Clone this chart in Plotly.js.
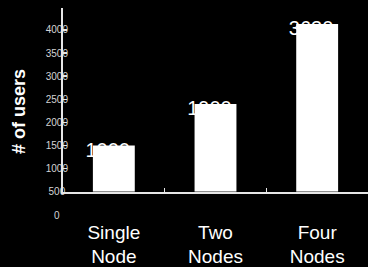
<!DOCTYPE html>
<html>
<head>
<meta charset="utf-8">
<script src="https://cdn.plot.ly/plotly-3.0.1.min.js"></script>
<style>html,body{margin:0;padding:0;background:#000;}#chart{width:368px;height:267px;}</style>
</head>
<body>
<div id="chart"></div>
<script>
// ---- data ----
const categories = ['Single<br>Node', 'Two<br>Nodes', 'Four<br>Nodes'];
const userCounts = [1000, 1900, 3630];
const barBase = 500;
const yTickVals = [0, 500, 1000, 1500, 2000, 2500, 3000, 3500, 4000];
const yTickLabels = ['0', '500', '1000', '1500', '2000', '2500', '3000', '3500', '4000'];
const yMax = 4475;

// ---- build ----
const maxLen = Math.max(...yTickLabels.map(s => s.length));
const centeredLabels = yTickLabels.map(s => s + '\u00a0'.repeat(maxLen - s.length));
const baseFrac = barBase / yMax;
const labelLift = 86; // axis-range offset that lifts the value labels a few px
const font = 'Arial, "Liberation Sans", sans-serif';

const anchorTrace = {
  type: 'scatter', mode: 'none', x: [], y: [],
  xaxis: 'x', yaxis: 'y', hoverinfo: 'skip', showlegend: false
};
const labelTrace = {
  type: 'scatter', mode: 'text',
  x: categories, y: userCounts.map(v => v + barBase),
  text: userCounts.map(String),
  textposition: 'bottom center',
  textfont: {family: font, size: 20, color: '#ffffff'},
  xaxis: 'x', yaxis: 'y3', hoverinfo: 'skip', showlegend: false
};
const barTrace = {
  type: 'bar', x: categories, y: userCounts, base: barBase,
  marker: {color: '#ffffff', line: {width: 0}},
  xaxis: 'x2', yaxis: 'y2', hoverinfo: 'skip', showlegend: false
};

const layout = {
  width: 368, height: 267,
  margin: {l: 63, r: 0, t: 8, b: 52},
  paper_bgcolor: '#000000', plot_bgcolor: 'rgba(0,0,0,0)',
  bargap: 0.588,
  showlegend: false,
  font: {family: font, color: '#ffffff'},
  xaxis: {
    type: 'category', range: [-0.44, 2.56], domain: [0, 1], anchor: 'y',
    visible: false, automargin: false
  },
  yaxis: {
    range: [0, yMax], domain: [0, 1], anchor: 'x',
    tickmode: 'array', tickvals: yTickVals, ticktext: centeredLabels,
    ticks: '', showline: false, showgrid: false, zeroline: false,
    tickfont: {family: font, size: 10, color: '#d4d4d4'},
    ticklabelstandoff: -6,
    title: {text: '<b># of users</b>', font: {family: font, size: 18, color: '#ffffff'}, standoff: 15},
    automargin: false
  },
  yaxis3: {
    range: [-labelLift, yMax - labelLift], overlaying: 'y', anchor: 'x',
    visible: false, automargin: false
  },
  xaxis2: {
    type: 'category', range: [-0.5, 2.5], domain: [0, 1], anchor: 'y2',
    showline: true, linecolor: '#e6e6e6', linewidth: 2,
    ticks: 'inside', ticklen: 4, tickcolor: '#e6e6e6', tickwidth: 1.5, tickson: 'boundaries',
    showgrid: false, zeroline: false,
    tickfont: {family: font, size: 19, color: '#ffffff'},
    ticklabelstandoff: 22,
    automargin: false
  },
  yaxis2: {
    range: [barBase, yMax], domain: [baseFrac, 1], anchor: 'x2',
    showline: true, linecolor: '#e6e6e6', linewidth: 2,
    tickmode: 'array', tickvals: yTickVals.filter(v => v >= barBase).concat([yMax]),
    ticks: 'inside', ticklen: 4, tickcolor: '#e6e6e6', tickwidth: 1.5,
    showticklabels: false, showgrid: false, zeroline: false,
    automargin: false
  }
};

Plotly.newPlot('chart', [anchorTrace, labelTrace, barTrace], layout, {displayModeBar: false, staticPlot: true});
</script>
</body>
</html>
